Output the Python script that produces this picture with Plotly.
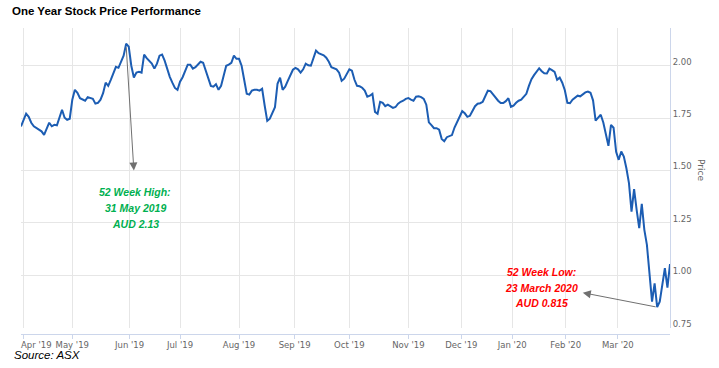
import pandas as pd
import plotly.graph_objects as go

# ---------------- data ----------------
asx_holidays = ["2019-04-19", "2019-04-22", "2019-04-25", "2019-06-10",
                "2019-12-25", "2019-12-26", "2020-01-01", "2020-01-27"]
start_date = "2019-03-29"
end_date = "2020-03-30"

price = [
    1.710,
    1.737, 1.771, 1.756, 1.728, 1.711, 1.702, 1.694, 1.687, 1.670, 1.699,
    1.728, 1.711, 1.718, 1.716, 1.752, 1.790, 1.752, 1.742, 1.747, 1.838,
    1.885, 1.871, 1.845, 1.838, 1.833, 1.850, 1.847, 1.842, 1.819, 1.823,
    1.838, 1.869, 1.919, 1.904, 1.933, 1.967, 1.995, 1.990, 2.019, 2.048,
    2.105, 2.091, 2.000, 1.944, 1.967, 1.971, 1.967, 2.053, 2.036, 2.022,
    2.010, 1.986, 2.010, 2.048, 2.053, 2.024, 1.981, 1.947, 1.919, 1.894,
    1.885, 1.924, 1.945, 1.976, 2.005, 2.005, 1.986, 1.993, 2.005, 2.019,
    2.014, 1.976, 1.943, 1.904, 1.900, 1.912, 1.885, 1.904, 1.952, 2.000,
    2.005, 2.014, 2.048, 2.033, 2.033, 2.000, 1.933, 1.866, 1.862, 1.881,
    1.885, 1.885, 1.881, 1.890, 1.809, 1.737, 1.747, 1.776, 1.802, 1.914,
    1.943, 1.885, 1.900, 1.928, 1.952, 1.981, 1.990, 1.983, 1.967, 1.983,
    2.010, 2.002, 2.000, 2.038, 2.072, 2.060, 2.053, 2.050, 2.038, 2.019,
    1.993, 1.986, 1.983, 1.967, 1.928, 1.938, 1.962, 1.983, 1.976, 1.933,
    1.904, 1.902, 1.895, 1.881, 1.852, 1.857, 1.866, 1.780, 1.771, 1.828,
    1.823, 1.807, 1.814, 1.807, 1.799, 1.803, 1.819, 1.828, 1.833, 1.842,
    1.846, 1.838, 1.833, 1.852, 1.854, 1.850, 1.842, 1.814, 1.730, 1.717,
    1.702, 1.702, 1.695, 1.651, 1.640, 1.659, 1.664, 1.669, 1.705, 1.733,
    1.756, 1.783, 1.773, 1.756, 1.761, 1.785, 1.807, 1.819, 1.821, 1.828,
    1.857, 1.881, 1.879, 1.862, 1.847, 1.833, 1.822, 1.822, 1.831, 1.845,
    1.804, 1.809, 1.823, 1.833, 1.838, 1.852, 1.866, 1.904, 1.936, 1.955,
    1.974, 1.988, 1.974, 1.964, 1.963, 1.986, 1.979, 1.971, 1.933, 1.943,
    1.919, 1.883, 1.823, 1.821, 1.838, 1.846, 1.857, 1.854, 1.866, 1.873,
    1.877, 1.871, 1.835, 1.738, 1.752, 1.766, 1.729, 1.680, 1.618, 1.718,
    1.704, 1.589, 1.551, 1.591, 1.567, 1.511, 1.440, 1.304, 1.411, 1.312,
    1.225, 1.341, 1.217, 1.145, 1.010, 0.874, 0.962, 0.848, 0.874, 0.946,
    1.034, 0.941, 1.054,
]

month_starts = ["2019-04-01", "2019-05-01", "2019-06-01", "2019-07-01",
                "2019-08-01", "2019-09-01", "2019-10-01", "2019-11-01",
                "2019-12-01", "2020-01-01", "2020-02-01", "2020-03-01"]
month_labels = ["Apr '19", "May '19", "Jun '19", "Jul '19", "Aug '19", "Sep '19",
                "Oct '19", "Nov '19", "Dec '19", "Jan '20", "Feb '20", "Mar '20"]
price_ticks = [0.75, 1.00, 1.25, 1.50, 1.75, 2.00]

title_text = "One Year Stock Price Performance"
source_text = "Source: ASX"
high_lines = ["52 Week High:", "31 May 2019", "AUD 2.13"]
low_lines = ["52 Week Low:", "23 March 2020", "AUD 0.815"]

# ---------------- calendar (ordinal trading-day axis) ----------------
trade_days = pd.bdate_range(start_date, end_date, freq="C", holidays=asx_holidays)
assert len(trade_days) == len(price), (len(trade_days), len(price))


def ordinal_pos(d):
    d = pd.Timestamp(d)
    if d in trade_days:
        return d
    prev = trade_days[trade_days < d][-1]
    nxt = trade_days[trade_days > d][0]
    frac = (d - prev) / (nxt - prev)
    return prev + pd.Timedelta(days=frac)


tick_pos = [ordinal_pos(m).strftime("%Y-%m-%d %H:%M:%S") for m in month_starts]
# first label is drawn left-justified at its tick (kept inside the chart), as in the original
tick_text = [""] + month_labels[1:]

# ---------------- geometry helpers ----------------
W, H = 719, 368
ML, MR, MT, MB = 21, 49, 28, 34
PW, PH = W - ML - MR, H - MT - MB
plot_bottom_px = 327.7


def px_x(x):
    return (x - ML) / PW


def px_y(y):
    return (MT + PH - y) / PH


fig = go.Figure()
fig.add_trace(go.Scatter(
    x=trade_days, y=price, mode="lines",
    line=dict(color="#1c5db3", width=2),
    hoverinfo="skip", showlegend=False,
))

tick_font = dict(family="DejaVu Sans", size=8.5, color="#666666")
fig.update_layout(
    width=W, height=H,
    margin=dict(l=ML, r=MR, t=MT, b=MB, pad=0, autoexpand=False),
    paper_bgcolor="white", plot_bgcolor="white",
    showlegend=False,
    title=dict(text="<b>" + title_text + "</b>", x=12 / W, xref="container",
               xanchor="left", y=1 - 10.5 / H, yref="container", yanchor="middle",
               font=dict(family="Liberation Sans", size=11.5, color="#000000")),
    xaxis=dict(
        type="date", range=[trade_days[0], trade_days[-1]],
        rangebreaks=[dict(bounds=["sat", "mon"]), dict(values=asx_holidays)],
        tickvals=tick_pos, ticktext=tick_text, tickangle=0,
        showgrid=True, gridcolor="#e6e6e6", gridwidth=1,
        showline=True, linecolor="#ccd6eb", linewidth=1,
        ticks="outside", ticklen=4, tickcolor="#ccd6eb",
        tickfont=tick_font, anchor="free", position=0, zeroline=False,
        automargin=False, ticklabelstandoff=-1,
    ),
    yaxis=dict(
        domain=[(MT + PH - plot_bottom_px) / PH, 1],
        range=[0.75, 2.18], side="right",
        tickvals=price_ticks, tickformat=".2f",
        showgrid=True, gridcolor="#e6e6e6", gridwidth=1,
        showline=True, linecolor="#ccd6eb", linewidth=1,
        ticks="", tickfont=tick_font, zeroline=False, ticklabelshift=-4,
        automargin=False,
    ),
)

ann = []
ann.append(dict(text=month_labels[0], xref="x", yref="paper",
                x=tick_pos[0], y=px_y(345), xanchor="left", yanchor="middle",
                xshift=-4, borderpad=0, showarrow=False, font=tick_font))
ann.append(dict(text="Price", textangle=90, xref="paper", yref="paper",
                x=px_x(708), y=px_y(170), showarrow=False,
                font=dict(family="DejaVu Sans", size=9, color="#666666")))
ann.append(dict(text="<i>" + source_text + "</i>", xref="paper", yref="paper",
                x=px_x(12), y=px_y(355), xanchor="left", yanchor="middle",
                showarrow=False,
                font=dict(family="Liberation Sans", size=11.5, color="#000000")))

for k, line in enumerate(high_lines):
    ann.append(dict(text="<b><i>" + line + "</i></b>", xref="paper", yref="paper",
                    x=px_x(135), y=px_y(192 + 15.8 * k), showarrow=False,
                    xanchor="center", yanchor="middle",
                    font=dict(family="Liberation Sans", size=10.5, color="#00B050")))
for k, line in enumerate(low_lines):
    ann.append(dict(text="<b><i>" + line + "</i></b>", xref="paper", yref="paper",
                    x=px_x(541), y=px_y(272 + 15.5 * k), showarrow=False,
                    xanchor="center", yanchor="middle",
                    font=dict(family="Liberation Sans", size=10.5, color="#FF0000")))

i_hi = max(range(len(price)), key=lambda i: price[i])
i_lo = min(range(len(price)), key=lambda i: price[i])
arrow_style = dict(showarrow=True, arrowhead=2, arrowsize=1.6, arrowwidth=1,
                   arrowcolor="#707070", standoff=0, startstandoff=0, text="")
ann.append(dict(xref="x", yref="y", axref="x", ayref="y",
                x="2019-06-04", y=1.50,
                ax=trade_days[i_hi], ay=price[i_hi] - 0.01, **arrow_style))
ann.append(dict(xref="x", yref="y", axref="x", ayref="y",
                x="2020-02-11", y=0.917,
                ax=trade_days[i_lo], ay=price[i_lo], **arrow_style))
fig.update_layout(annotations=ann)

fig.write_html("out.html", config={"displayModeBar": False},
               post_script="document.body.style.margin='0';")
